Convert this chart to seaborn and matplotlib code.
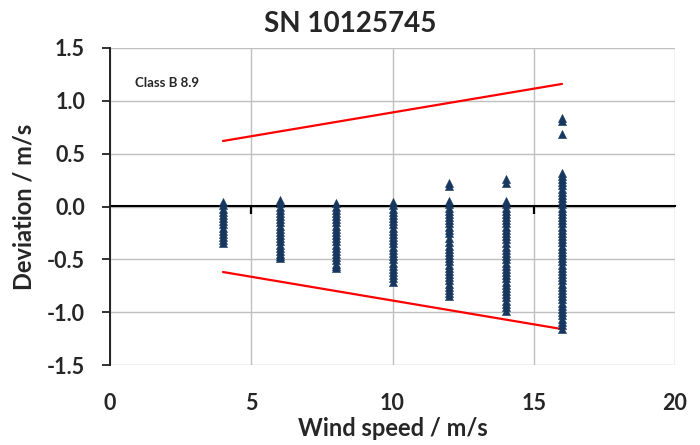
import matplotlib
matplotlib.use("Agg")
import matplotlib.pyplot as plt
import seaborn as sns
import pandas as pd

# ---- data ----
speeds = [4, 6, 8, 10, 12, 14, 16]
dev_4 = [0.04, 0.01, -0.02, -0.05, -0.08, -0.11, -0.14, -0.17, -0.20, -0.23,
         -0.26, -0.29, -0.32, -0.35]
dev_6 = [0.06, 0.03, 0.00, -0.03, -0.06, -0.09, -0.12, -0.15, -0.18, -0.21,
         -0.24, -0.27, -0.30, -0.33, -0.36, -0.39, -0.42, -0.45, -0.47, -0.49]
dev_8 = [0.03, 0.00, -0.03, -0.06, -0.09, -0.12, -0.15, -0.18, -0.21, -0.24,
         -0.27, -0.30, -0.33, -0.36, -0.39, -0.42, -0.45, -0.48, -0.51, -0.54,
         -0.56, -0.58]
dev_10 = [0.04, 0.01, -0.02, -0.05, -0.08, -0.11, -0.14, -0.17, -0.20, -0.23,
          -0.26, -0.29, -0.32, -0.35, -0.38, -0.41, -0.44, -0.47, -0.50, -0.53,
          -0.56, -0.59, -0.62, -0.65, -0.68, -0.71]
dev_12 = [0.22, 0.19, 0.05, 0.02, -0.01, -0.04, -0.07, -0.10, -0.13, -0.16,
          -0.19, -0.22, -0.25, -0.30, -0.34, -0.37, -0.40, -0.43, -0.46, -0.49,
          -0.52, -0.55, -0.58, -0.61, -0.64, -0.67, -0.70, -0.73, -0.76, -0.79,
          -0.82, -0.85]
dev_14 = [0.26, 0.22, 0.05, 0.02, -0.01, -0.04, -0.07, -0.10, -0.13, -0.16,
          -0.19, -0.22, -0.25, -0.28, -0.31, -0.35, -0.38, -0.41, -0.44, -0.47,
          -0.50, -0.53, -0.56, -0.59, -0.62, -0.65, -0.68, -0.71, -0.74, -0.77,
          -0.80, -0.83, -0.86, -0.89, -0.92, -0.95, -0.99]
dev_16 = [0.84, 0.81, 0.69, 0.32, 0.29, 0.26, 0.23, 0.20, 0.17, 0.14, 0.11,
          0.08, 0.05, 0.02, -0.01, -0.04, -0.07, -0.10, -0.13, -0.16, -0.19,
          -0.22, -0.25, -0.28, -0.31, -0.34, -0.37, -0.40, -0.43, -0.46, -0.49,
          -0.52, -0.55, -0.58, -0.61, -0.64, -0.67, -0.70, -0.73, -0.76, -0.79,
          -0.82, -0.85, -0.88, -0.91, -0.94, -0.97, -1.00, -1.03, -1.06, -1.09,
          -1.12, -1.16]
deviations = [dev_4, dev_6, dev_8, dev_10, dev_12, dev_14, dev_16]

limit_speed = [4, 16]
limit_upper = [0.62, 1.16]
limit_lower = [-0.62, -1.16]

title = "SN 10125745"
xlabel = "Wind speed / m/s"
ylabel = "Deviation / m/s"
note = "Class B 8.9"
xticks = [0, 5, 10, 15, 20]
yticks = [-1.5, -1.0, -0.5, 0.0, 0.5, 1.0, 1.5]

# ---- build tables ----
rows = []
for s, devs in zip(speeds, deviations):
    for d in devs:
        rows.append({"speed": s, "dev": d})
pts = pd.DataFrame(rows)
lim = pd.DataFrame({"speed": limit_speed * 2,
                    "dev": limit_upper + limit_lower,
                    "which": ["upper"] * 2 + ["lower"] * 2})

sns.set_theme(style="white")
plt.rcParams["font.family"] = ["Lato", "DejaVu Sans"]
plt.rcParams["font.weight"] = "bold"

fig = plt.figure(figsize=(7.0, 4.45), dpi=100)
ax = fig.add_axes([110 / 700, 1 - 365 / 445, 565 / 700, 317 / 445])

sns.lineplot(data=lim, x="speed", y="dev", units="which", estimator=None,
             color="#FF0000", linewidth=1.6, ax=ax, zorder=3)
sns.scatterplot(data=pts, x="speed", y="dev", marker="^", s=34,
                color="#17375E", edgecolor="#17375E", linewidth=0.4,
                ax=ax, zorder=4)

ax.set_xlim(0, 20)
ax.set_ylim(-1.5, 1.5)
ax.set_xticks(xticks)
ax.set_yticks(yticks)
ax.set_yticklabels([f"{v:.1f}" for v in yticks])
ax.grid(True, color="#BFBFBF", linewidth=1.0)
ax.set_axisbelow(True)

for side in ["top", "right", "bottom"]:
    ax.spines[side].set_visible(False)
ax.spines["left"].set_color("#222222")
ax.spines["left"].set_linewidth(1.4)
ax.spines["left"].set_zorder(5)

ax.tick_params(axis="y", direction="out", length=6, width=1.3, color="#222222",
               left=True, pad=12, labelsize=15.5)
ax.tick_params(axis="x", length=0, pad=20, labelsize=15.5)
for lab in ax.get_xticklabels() + ax.get_yticklabels():
    lab.set_fontweight("bold")

# zero axis line with tick marks
sec = ax.secondary_xaxis(0.5)
sec.set_zorder(3)
sec.set_xticks([5, 10, 15])
sec.xaxis.set_ticks_position("bottom")
sec.tick_params(axis="x", which="both", direction="out", length=6, width=1.6,
                color="#000000", labelbottom=False, labeltop=False, top=False,
                bottom=True)
for sp in sec.spines.values():
    sp.set_color("#000000")
    sp.set_linewidth(1.5)

ax.set_xlabel(xlabel, fontsize=17, fontweight="bold", labelpad=2)
ax.set_ylabel(ylabel, fontsize=17, fontweight="bold", labelpad=8)
fig.text(0.5, 1 - 24 / 445, title, fontsize=20, fontweight="bold",
         ha="center", va="center")
ax.text(0.9, 1.17, note, fontsize=9.5, fontweight="bold", ha="left", va="center")

fig.savefig("out.png", dpi=100)
